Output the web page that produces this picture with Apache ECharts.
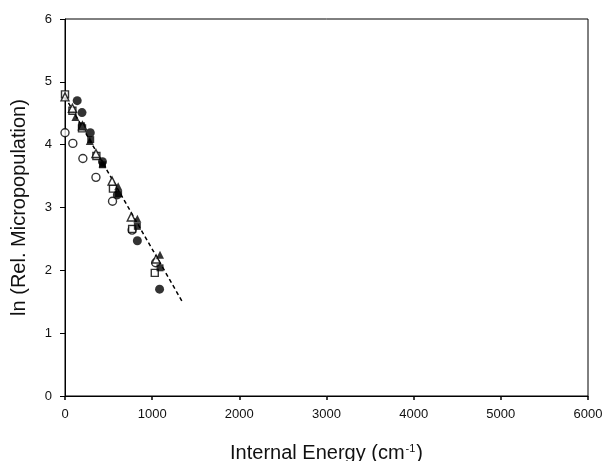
<!DOCTYPE html>
<html>
<head>
<meta charset="utf-8">
<script src="https://cdn.jsdelivr.net/npm/echarts@6/dist/echarts.min.js"></script>
<style>
  html, body { margin: 0; padding: 0; background: #fff; }
  #chart { width: 605px; height: 461px; }
</style>
</head>
<body>
<div id="chart"></div>
<script>
// Internal energy (cm^-1) and ln of relative micropopulation, one pair of arrays per marker set
var filledCircleE = [140, 195, 290, 430, 600, 830, 1085];
var filledCircleLn = [4.70, 4.51, 4.19, 3.73, 3.20, 2.47, 1.70];

var openCircleE = [0, 90, 205, 355, 545, 770, 1040];
var openCircleLn = [4.19, 4.02, 3.78, 3.48, 3.10, 2.64, 2.12];

var filledTriangleE = [120, 285, 430, 610, 830, 1090];
var filledTriangleLn = [4.44, 4.06, 3.70, 3.34, 2.82, 2.25];

var openTriangleE = [0, 85, 200, 355, 540, 760, 1045];
var openTriangleLn = [4.76, 4.58, 4.30, 3.86, 3.42, 2.85, 2.18];

var openSquareE = [0, 85, 195, 360, 550, 770, 1030];
var openSquareLn = [4.80, 4.54, 4.26, 3.82, 3.30, 2.66, 1.96];

var filledSquareE = [190, 295, 430, 615, 830, 1090];
var filledSquareLn = [4.30, 4.08, 3.68, 3.22, 2.70, 2.04];

// Linear fit drawn as a dashed line
var fitE = [0, 1350];
var fitLn = [4.76, 1.49];

var xTicks = [0, 1000, 2000, 3000, 4000, 5000, 6000];
var yTicks = [0, 1, 2, 3, 4, 5, 6];

function pairs(xs, ys) {
  return xs.map(function (x, i) { return [x, ys[i]]; });
}

var font = 'Liberation Sans, Arial, sans-serif';
var ink = '#111';

function markerSeries(name, xs, ys, symbol, filled, size) {
  return {
    name: name,
    type: 'scatter',
    data: pairs(xs, ys),
    symbol: symbol,
    symbolSize: size,
    itemStyle: filled
      ? { color: '#000', borderColor: '#000', borderWidth: 0 }
      : { color: '#fff', borderColor: '#000', borderWidth: 1.4 },
    emphasis: { disabled: true },
    z: filled ? 4 : 3
  };
}

var chart = echarts.init(document.getElementById('chart'), null, { renderer: 'canvas' });

chart.setOption({
  animation: false,
  backgroundColor: '#fff',
  grid: {
    left: 65, right: 17, top: 19, bottom: 65,
    containLabel: false,
    outerBoundsMode: 'none',
    show: true, borderColor: '#000', borderWidth: 1, backgroundColor: 'transparent'
  },
  xAxis: {
    type: 'value',
    min: xTicks[0], max: xTicks[xTicks.length - 1], interval: 1000,
    name: '{a|Internal Energy (cm}{s|-1}{a|)}',
    nameLocation: 'middle',
    nameGap: 47,
    nameTextStyle: {
      rich: {
        a: { fontFamily: font, fontSize: 20, color: ink },
        s: { fontFamily: font, fontSize: 11, color: ink, verticalAlign: 'top', padding: [0, 1, 9, 1] }
      }
    },
    axisLine: { show: true, lineStyle: { color: '#000', width: 1 } },
    axisTick: { show: true, inside: false, length: 4, lineStyle: { color: '#000', width: 1.5 } },
    axisLabel: {
      fontFamily: font, fontSize: 13, color: ink, margin: 12,
      formatter: function (v) { return String(v); }
    },
    splitLine: { show: false }
  },
  yAxis: {
    type: 'value',
    min: yTicks[0], max: yTicks[yTicks.length - 1], interval: 1,
    name: 'ln (Rel. Micropopulation)',
    nameLocation: 'middle',
    nameGap: 36,
    nameRotate: 90,
    nameTextStyle: { fontFamily: font, fontSize: 20, color: ink },
    axisLine: { show: true, lineStyle: { color: '#000', width: 1 } },
    axisTick: { show: true, inside: false, length: 5, lineStyle: { color: '#000', width: 1 } },
    axisLabel: {
      fontFamily: font, fontSize: 13, color: ink, margin: 13,
      formatter: function (v) { return String(v); }
    },
    splitLine: { show: false }
  },
  series: [
    {
      name: 'fit',
      type: 'line',
      data: pairs(fitE, fitLn),
      symbol: 'none',
      lineStyle: { color: '#000', width: 1.5, type: [4, 3] },
      z: 2
    },
    markerSeries('open circles', openCircleE, openCircleLn, 'circle', false, 8),
    markerSeries('open squares', openSquareE, openSquareLn, 'rect', false, 7),
    markerSeries('open triangles', openTriangleE, openTriangleLn, 'triangle', false, 8),
    markerSeries('filled circles', filledCircleE, filledCircleLn, 'circle', true, 9),
    markerSeries('filled squares', filledSquareE, filledSquareLn, 'rect', true, 7),
    markerSeries('filled triangles', filledTriangleE, filledTriangleLn, 'triangle', true, 8)
  ]
});
</script>
</body>
</html>
